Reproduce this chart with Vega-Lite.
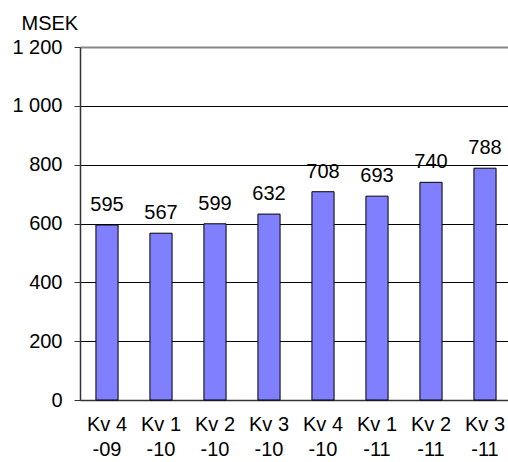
{
  "$schema": "https://vega.github.io/schema/vega-lite/v6.json",
  "autosize": {"type": "none"},
  "padding": {"left": 80, "top": 47, "right": 0, "bottom": 62},
  "width": 432,
  "height": 353,
  "background": "white",
  "config": {
    "font": "Liberation Sans",
    "view": {"stroke": null}
  },
  "data": {
    "values": [
      {"kvartal": "Kv 4 -09", "msek": 595},
      {"kvartal": "Kv 1 -10", "msek": 567},
      {"kvartal": "Kv 2 -10", "msek": 599},
      {"kvartal": "Kv 3 -10", "msek": 632},
      {"kvartal": "Kv 4 -10", "msek": 708},
      {"kvartal": "Kv 1 -11", "msek": 693},
      {"kvartal": "Kv 2 -11", "msek": 740},
      {"kvartal": "Kv 3 -11", "msek": 788}
    ]
  },
  "encoding": {
    "x": {
      "field": "kvartal",
      "type": "nominal",
      "sort": null,
      "scale": {"paddingInner": 0.59, "paddingOuter": 0.295},
      "axis": {
        "title": null,
        "labelAngle": 0,
        "labelFont": "Liberation Sans",
        "labelFontSize": 20,
        "labelColor": "black",
        "labelExpr": "[slice(datum.value, 0, 4), slice(datum.value, 5)]",
        "labelLineHeight": 25,
        "labelBaseline": "top",
        "labelPadding": 14,
        "ticks": false,
        "domainColor": "#333333",
        "domainWidth": 1.5,
        "grid": false
      }
    },
    "y": {
      "field": "msek",
      "type": "quantitative",
      "scale": {"domain": [0, 1200], "nice": false},
      "axis": {
        "title": "MSEK",
        "titleAngle": 0,
        "titleFont": "Liberation Sans",
        "titleFontSize": 20,
        "titleFontWeight": "normal",
        "titleColor": "black",
        "titleAlign": "left",
        "titleBaseline": "alphabetic",
        "titleX": -59,
        "titleY": -18,
        "values": [0, 200, 400, 600, 800, 1000, 1200],
        "labelExpr": "replace(format(datum.value, ','), ',', ' ')",
        "labelFont": "Liberation Sans",
        "labelFontSize": 20,
        "labelColor": "black",
        "labelPadding": 12,
        "tickSize": 6,
        "tickColor": "#333333",
        "domainColor": "#333333",
        "domainWidth": 1.5,
        "grid": true,
        "gridColor": {"condition": {"test": "datum.value === 1200", "value": "#888888"}, "value": "black"},
        "gridWidth": {"condition": {"test": "datum.value === 1200", "value": 2}, "value": 1}
      }
    }
  },
  "layer": [
    {
      "mark": {"type": "bar", "color": "#8080FF", "stroke": "black", "strokeWidth": 1}
    },
    {
      "mark": {"type": "text", "baseline": "alphabetic", "dy": -14, "fontSize": 20, "font": "Liberation Sans", "color": "black"},
      "encoding": {"text": {"field": "msek", "type": "quantitative"}}
    }
  ]
}
